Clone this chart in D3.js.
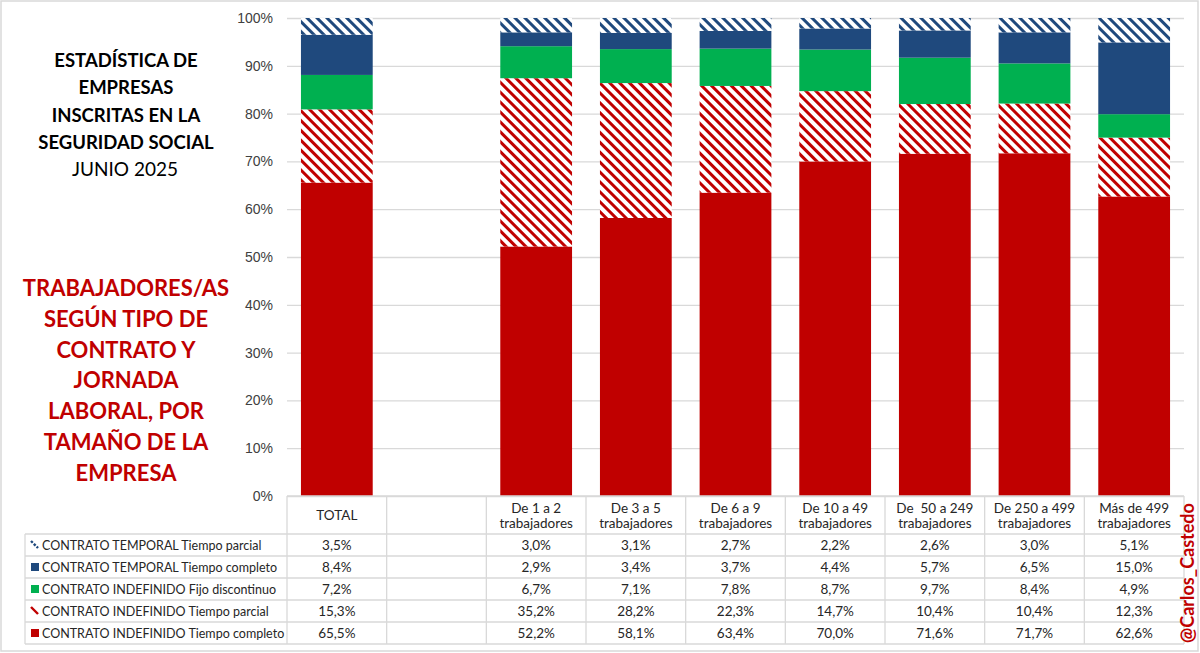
<!DOCTYPE html>
<html>
<head>
<meta charset="utf-8">
<script src="https://cdn.jsdelivr.net/npm/d3@7"></script>
<style>
  body { margin: 0; background: #fff; }
  svg { font-family: Lato, "Open Sans", sans-serif; }
</style>
</head>
<body>
<svg id="chart" width="1200" height="653"></svg>
<script>
// categories (blank one is the empty gap after TOTAL)
var categories = ['TOTAL', ' ', 'De 1 a 2\ntrabajadores', 'De 3 a 5\ntrabajadores', 'De 6 a 9\ntrabajadores',
  'De 10 a 49\ntrabajadores', 'De  50 a 249\ntrabajadores', 'De 250 a 499\ntrabajadores', 'Más de 499\ntrabajadores'];

var seriesNames = ['CONTRATO TEMPORAL Tiempo parcial', 'CONTRATO TEMPORAL Tiempo completo',
  'CONTRATO INDEFINIDO Fijo discontinuo', 'CONTRATO INDEFINIDO Tiempo parcial',
  'CONTRATO INDEFINIDO Tiempo completo'];

// values per series, same order as categories (null = empty column)
var tempParcial = [3.5, null, 3.0, 3.1, 2.7, 2.2, 2.6, 3.0, 5.1];
var tempCompleto = [8.4, null, 2.9, 3.4, 3.7, 4.4, 5.7, 6.5, 15.0];
var indefFijo = [7.2, null, 6.7, 7.1, 7.8, 8.7, 9.7, 8.4, 4.9];
var indefParcial = [15.3, null, 35.2, 28.2, 22.3, 14.7, 10.4, 10.4, 12.3];
var indefCompleto = [65.5, null, 52.2, 58.1, 63.4, 70.0, 71.6, 71.7, 62.6];

var yTicks = [0, 0.1, 0.2, 0.3, 0.4, 0.5, 0.6, 0.7, 0.8, 0.9, 1];

var seriesValues = [tempParcial, tempCompleto, indefFijo, indefParcial, indefCompleto];
var fills = ['url(#hatchBlue)', '#1F497D', '#00B050', 'url(#hatchRed)', '#C00000'];

(function () {
  var svg = d3.select('#chart');

  // hatch patterns ("\" stripes)
  var defs = svg.append('defs');
  [['hatchBlue', '#1F497D'], ['hatchRed', '#C00000']].forEach(function (p) {
    var pat = defs.append('pattern').attr('id', p[0]).attr('patternUnits', 'userSpaceOnUse')
      .attr('width', 7).attr('height', 7).attr('patternTransform', 'rotate(-45)');
    pat.append('rect').attr('width', 7).attr('height', 7).attr('fill', '#fff');
    pat.append('rect').attr('x', 0).attr('width', 3).attr('height', 7).attr('fill', p[1]);
  });

  // outer frame
  svg.append('rect').attr('x', 1).attr('y', 1).attr('width', 1197).attr('height', 650)
    .attr('fill', 'none').attr('stroke', '#D9D9D9').attr('stroke-width', 1.5);

  var pLeft = 287, pRight = 1184, pTop = 18, pBottom = 496;

  var x = d3.scaleBand().domain(categories).range([pLeft, pRight]).padding(0);
  var y = d3.scaleLinear().domain([0, 1]).range([pBottom, pTop]);

  // gridlines
  svg.append('g').attr('transform', 'translate(' + pLeft + ',0)')
    .call(d3.axisLeft(y).tickValues(yTicks).tickSize(-(pRight - pLeft)).tickFormat(''))
    .call(function (g) { g.select('.domain').remove(); })
    .selectAll('line').attr('stroke', '#D9D9D9').attr('stroke-width', 1.3);

  // y axis labels
  svg.append('g').attr('transform', 'translate(' + (pLeft - 14) + ',0)')
    .call(d3.axisLeft(y).tickValues(yTicks).tickSize(0).tickFormat(d3.format('.0%')))
    .call(function (g) { g.select('.domain').remove(); })
    .selectAll('text').attr('font-size', 14).attr('fill', '#404040').attr('x', 0);

  // stacked data
  var rows = categories.map(function (c, i) {
    var r = { cat: c };
    seriesNames.forEach(function (s, k) { r[s] = seriesValues[k][i] || 0; });
    return r;
  }).filter(function (r) { return r.cat !== ' '; });

  var stack = d3.stack().keys(seriesNames.slice().reverse()).offset(d3.stackOffsetExpand);
  var layers = stack(rows);

  var barW = x.bandwidth() * 0.72;

  svg.append('g').selectAll('g').data(layers).join('g')
    .attr('fill', function (d) { return fills[seriesNames.indexOf(d.key)]; })
    .selectAll('rect').data(function (d) { return d; }).join('rect')
    .attr('x', function (d) { return x(d.data.cat) + (x.bandwidth() - barW) / 2; })
    .attr('y', function (d) { return y(d[1]); })
    .attr('width', barW)
    .attr('height', function (d) { return y(d[0]) - y(d[1]); });

  // data table
  var headH = 38, rowH = 22, legLeft = 25;
  var tbl = svg.append('g').attr('stroke', '#D9D9D9').attr('stroke-width', 1.3);
  var tableBottom = pBottom + headH + rowH * seriesNames.length;

  tbl.append('line').attr('x1', pLeft).attr('x2', pRight).attr('y1', pBottom).attr('y2', pBottom);
  d3.range(seriesNames.length + 1).forEach(function (k) {
    var yy = pBottom + headH + rowH * k;
    tbl.append('line').attr('x1', legLeft).attr('x2', pRight).attr('y1', yy).attr('y2', yy);
  });
  tbl.append('line').attr('x1', legLeft).attr('x2', legLeft).attr('y1', pBottom + headH).attr('y2', tableBottom);
  categories.forEach(function (c) {
    tbl.append('line').attr('x1', x(c)).attr('x2', x(c)).attr('y1', pBottom).attr('y2', tableBottom);
  });
  tbl.append('line').attr('x1', pRight).attr('x2', pRight).attr('y1', pBottom).attr('y2', tableBottom);

  // header labels
  categories.forEach(function (c) {
    var parts = c.split('\n');
    var cx = x(c) + x.bandwidth() / 2;
    var t = svg.append('text').attr('text-anchor', 'middle').attr('font-size', 13.5).attr('fill', '#262626')
      .attr('x', cx).attr('xml:space', 'preserve');
    if (parts.length === 1) {
      t.attr('y', pBottom + 24).text(c);
    } else {
      parts.forEach(function (p, i) {
        t.append('tspan').attr('x', cx).attr('y', pBottom + 17 + i * 15).text(p);
      });
    }
  });

  // row labels, legend keys and values
  var fmt = function (v) { return v.toFixed(1).replace('.', ',') + '%'; };
  seriesNames.forEach(function (s, k) {
    var cy = pBottom + headH + rowH * k + rowH / 2;
    var sq = 8;
    if (fills[k].indexOf('url') === 0) {
      var col = k === 0 ? '#1F497D' : '#C00000';
      svg.append('line').attr('x1', 31).attr('y1', cy - 4).attr('x2', 38).attr('y2', cy + 3)
        .attr('stroke', col).attr('stroke-width', 2.4).attr('stroke-dasharray', k === 0 ? '2.5,1.5' : null);
    } else {
      svg.append('rect').attr('x', 31).attr('y', cy - sq / 2).attr('width', sq).attr('height', sq).attr('fill', fills[k]);
    }
    svg.append('text').attr('x', 42).attr('y', cy + 4.5).attr('font-size', 12.5).attr('fill', '#262626').text(s);
    categories.forEach(function (c, i) {
      var v = seriesValues[k][i];
      if (v == null) return;
      svg.append('text').attr('x', x(c) + x.bandwidth() / 2).attr('y', cy + 4.5)
        .attr('text-anchor', 'middle').attr('font-size', 13.5).attr('fill', '#262626').text(fmt(v));
    });
  });

  // titles
  var title1 = ['ESTADÍSTICA DE', 'EMPRESAS', 'INSCRITAS EN LA', 'SEGURIDAD SOCIAL'];
  title1.forEach(function (t, i) {
    svg.append('text').attr('x', 126).attr('y', 67 + i * 27.3).attr('text-anchor', 'middle')
      .attr('font-size', 18.5).attr('font-weight', 'bold').attr('fill', '#000').text(t);
  });
  svg.append('text').attr('x', 125).attr('y', 176).attr('text-anchor', 'middle')
    .attr('font-size', 19).attr('fill', '#000').text('JUNIO 2025');

  var title2 = ['TRABAJADORES/AS', 'SEGÚN TIPO DE', 'CONTRATO Y', 'JORNADA', 'LABORAL, POR', 'TAMAÑO DE LA', 'EMPRESA'];
  title2.forEach(function (t, i) {
    svg.append('text').attr('x', 126).attr('y', 296 + i * 30.8).attr('text-anchor', 'middle')
      .attr('font-size', 22).attr('font-weight', 'bold').attr('fill', '#C00000').text(t);
  });

  // watermark
  svg.append('text').attr('transform', 'translate(1194,573) rotate(-90)').attr('text-anchor', 'middle')
    .attr('font-size', 18).attr('font-weight', 'bold').attr('fill', '#C00000').text('@Carlos_Castedo');
})();
</script>
</body>
</html>
